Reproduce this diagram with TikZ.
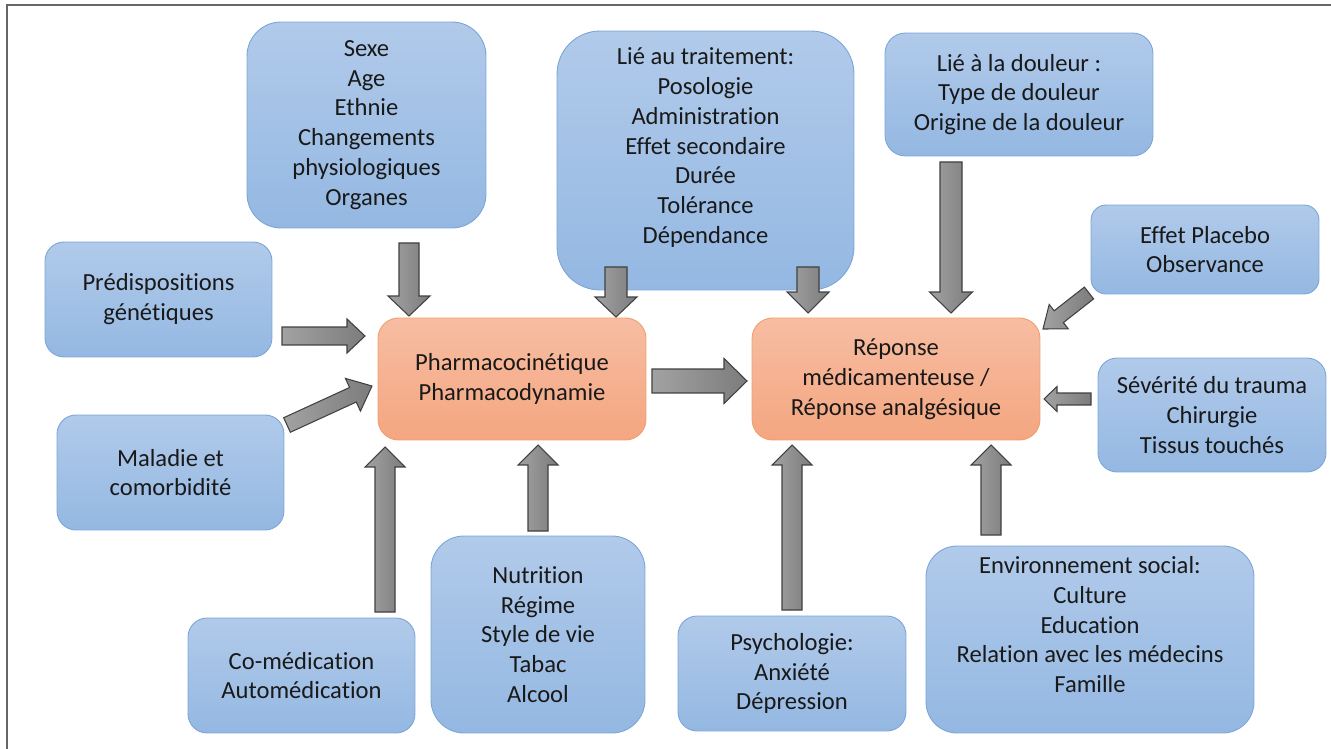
\documentclass[tikz,border=0pt]{standalone}
\usepackage{fontspec}
\setmainfont{Carlito}[Ligatures={NoCommon}]
\usetikzlibrary{calc}

\definecolor{boxtop}{HTML}{B1CAEA}
\definecolor{boxbot}{HTML}{94B8E2}
\definecolor{boxline}{HTML}{7BA5D8}
\definecolor{pktop}{HTML}{F7BDA2}
\definecolor{pkbot}{HTML}{F4A680}
\definecolor{pkline}{HTML}{F19E6C}
\definecolor{arrline}{HTML}{404040}
\definecolor{arrlight}{HTML}{A2A2A2}
\definecolor{arrdark}{HTML}{7C7C7C}

\newcommand{\bigarrow}[5]{%
  \coordinate (hb) at ($(#2)!#5!(#1)$);
  \draw[bigarr] ($(#1)!#3!90:(#2)$) -- ($(hb)!#3!90:(#2)$) -- ($(hb)!#4!90:(#2)$) -- (#2)
    -- ($(hb)!#4!-90:(#2)$) -- ($(hb)!#3!-90:(#2)$) -- ($(#1)!#3!-90:(#2)$) -- cycle;
}

\begin{document}
\begin{tikzpicture}[x=0.02cm, y=-0.02cm,
    font=\fontsize{14}{17}\selectfont,
    bluebox/.style={draw=boxline, line width=0.5pt, top color=boxtop, bottom color=boxbot, align=center, text=black!90},
    orangebox/.style={draw=pkline, line width=0.5pt, top color=pktop, bottom color=pkbot, align=center, text=black!90},
    bigarr/.style={draw=arrline, line width=0.6pt, left color=arrlight, right color=arrdark, line join=miter}]
    \useasboundingbox (0,0) rectangle (1331,749);
    \draw[line width=1.1pt, black!60] (7,749) -- (7,5) -- (1331,5);

    \node[bluebox, rounded corners=0.68cm, minimum width=4.78cm, minimum height=4.12cm] (sexe) at (366.5,125) {Sexe\\Age\\Ethnie\\Changements\\physiologiques\\Organes};
    \node[bluebox, rounded corners=0.86cm, minimum width=5.94cm, minimum height=5.18cm] (trait) at (705.5,160.5) {Lié au traitement:\\Posologie\\Administration\\Effet secondaire\\Durée\\Tolérance\\Dépendance\\\mbox{}};
    \node[bluebox, rounded corners=0.41cm, minimum width=5.36cm, minimum height=2.46cm] (douleur) at (1019,94.5) {Lié à la douleur :\\Type de douleur\\Origine de la douleur};
    \node[bluebox, rounded corners=0.38cm, minimum width=4.54cm, minimum height=2.30cm] (pred) at (158.5,299.5) {Prédispositions\\génétiques};
    \node[bluebox, rounded corners=0.30cm, minimum width=4.56cm, minimum height=1.78cm] (placebo) at (1205,249.5) {Effet Placebo\\Observance};
    \node[orangebox, rounded corners=0.41cm, minimum width=5.36cm, minimum height=2.44cm] (pkpd) at (512,379) {Pharmacocinétique\\Pharmacodynamie};
    \node[orangebox, rounded corners=0.41cm, minimum width=5.76cm, minimum height=2.44cm] (reponse) at (896,379) {Réponse\\médicamenteuse /\\Réponse analgésique};
    \node[bluebox, rounded corners=0.38cm, minimum width=4.56cm, minimum height=2.28cm] (trauma) at (1212,415) {Sévérité du trauma\\Chirurgie\\Tissus touchés};
    \node[bluebox, rounded corners=0.38cm, minimum width=4.54cm, minimum height=2.30cm] (maladie) at (170.5,472.5) {Maladie et\\comorbidité};
    \node[bluebox, rounded corners=0.38cm, minimum width=4.54cm, minimum height=2.30cm] (comed) at (301.5,675.5) {Co-médication\\Automédication};
    \node[bluebox, rounded corners=0.66cm, minimum width=4.28cm, minimum height=3.94cm] (nutrition) at (538,634.5) {Nutrition\\Régime\\Style de vie\\Tabac\\Alcool};
    \node[bluebox, rounded corners=0.38cm, minimum width=4.56cm, minimum height=2.30cm] (psycho) at (792,673.5) {Psychologie:\\Anxiété\\Dépression};
    \node[bluebox, rounded corners=0.62cm, minimum width=6.56cm, minimum height=3.74cm] (social) at (1090,639.5) {Environnement social:\\Culture\\Education\\Relation avec les médecins\\Famille\\\mbox{}};

    \coordinate (sexe-a) at (409,243);    \coordinate (sexe-b) at (409,316);
    \coordinate (trait-a) at (616,267);   \coordinate (trait-b) at (616,317);
    \coordinate (trait-c) at (808,267);   \coordinate (trait-d) at (808,313);
    \coordinate (douleur-a) at (951,162); \coordinate (douleur-b) at (951,313);
    \coordinate (pred-a) at (282,336);    \coordinate (pred-b) at (365,336);
    \coordinate (maladie-a) at (287,425); \coordinate (maladie-b) at (372,386);
    \coordinate (pkpd-a) at (652,381);    \coordinate (pkpd-b) at (747,381);
    \coordinate (placebo-a) at (1089,293);\coordinate (placebo-b) at (1043,329);
    \coordinate (trauma-a) at (1091,399); \coordinate (trauma-b) at (1044,399);
    \coordinate (comed-a) at (385,612);   \coordinate (comed-b) at (385,447);
    \coordinate (nutrition-a) at (538,531); \coordinate (nutrition-b) at (538,445);
    \coordinate (psycho-a) at (792,610);  \coordinate (psycho-b) at (792,445);
    \coordinate (social-a) at (991,535);  \coordinate (social-b) at (991,445);

    \bigarrow{sexe-a}{sexe-b}{0.2cm}{0.42cm}{0.4cm}
    \bigarrow{trait-a}{trait-b}{0.22cm}{0.42cm}{0.4cm}
    \bigarrow{trait-c}{trait-d}{0.22cm}{0.42cm}{0.42cm}
    \bigarrow{douleur-a}{douleur-b}{0.22cm}{0.43cm}{0.42cm}
    \bigarrow{pred-a}{pred-b}{0.18cm}{0.34cm}{0.36cm}
    \bigarrow{maladie-a}{maladie-b}{0.16cm}{0.36cm}{0.42cm}
    \bigarrow{pkpd-a}{pkpd-b}{0.24cm}{0.45cm}{0.46cm}
    \bigarrow{placebo-a}{placebo-b}{0.15cm}{0.31cm}{0.4cm}
    \bigarrow{trauma-a}{trauma-b}{0.12cm}{0.25cm}{0.26cm}
    \bigarrow{comed-a}{comed-b}{0.2cm}{0.4cm}{0.4cm}
    \bigarrow{nutrition-a}{nutrition-b}{0.2cm}{0.4cm}{0.4cm}
    \bigarrow{psycho-a}{psycho-b}{0.2cm}{0.4cm}{0.4cm}
    \bigarrow{social-a}{social-b}{0.2cm}{0.4cm}{0.4cm}
\end{tikzpicture}
\end{document}
